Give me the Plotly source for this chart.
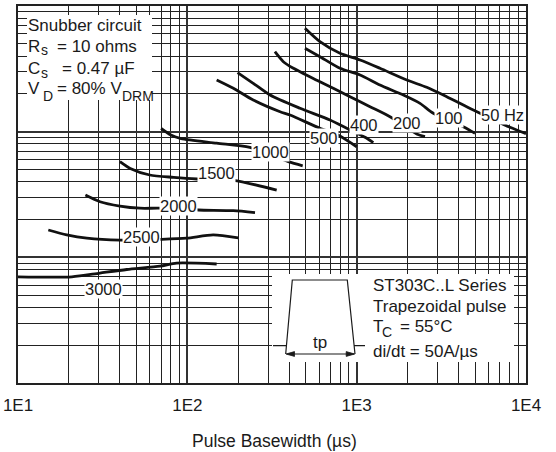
import plotly.graph_objects as go

# ---------------- data ----------------
series_names = ["50 Hz", "100", "200", "400", "500", "1000", "1500", "2000", "2500", "3000"]

pw_50 = [495, 607, 797, 1047, 1373, 1975, 2592, 3402, 4886, 8044, 10000]
ia_50 = [6645, 5200, 4203, 3718, 3194, 2577, 2254, 1898, 1487, 1083, 965]

pw_100 = [495, 607, 797, 1047, 1373, 1886, 2366, 2836, 4264, 5000]
ia_100 = [4607, 3950, 3194, 2825, 2351, 1958, 1681, 1400, 1095, 970]

pw_200 = [329, 369, 423, 607, 914, 1199, 1573, 2262, 2532]
ia_200 = [4328, 3605, 3194, 2498, 1898, 1580, 1315, 958, 912]

pw_400 = [198, 245, 308, 463, 696, 873, 1120, 1254]
ia_400 = [2946, 2426, 1958, 1535, 1239, 1064, 902, 817]

pw_500 = [149, 187, 245, 353, 404, 607, 776, 1000]
ia_500 = [2577, 2213, 1786, 1441, 1357, 1064, 941, 759]

pw_1000 = [70, 80, 92, 149, 234, 395, 480]
ia_1000 = [1064, 941, 880, 810, 750, 577, 535]

pw_1500 = [40, 46, 60, 83, 114, 187, 337]
ia_1500 = [577, 510, 452, 433, 420, 410, 343]

pw_2000 = [25, 30.5, 40, 52.5, 69, 116, 187, 251]
ia_2000 = [313, 277, 256, 246, 246, 238, 235, 227]

pw_2500 = [15.1, 19.4, 25.5, 40, 69, 99, 142, 200]
ia_2500 = [165, 151, 142, 137, 139, 142, 151, 143]

pw_3000 = [10, 20.8, 30.5, 43.9, 69, 86.5, 149]
ia_3000 = [70, 70, 75, 80, 85, 90, 88.5]

x_tick_vals = [10, 100, 1000, 10000]
x_tick_text = ["1E1", "1E2", "1E3", "1E4"]

curves = [(pw_50, ia_50), (pw_100, ia_100), (pw_200, ia_200), (pw_400, ia_400),
          (pw_500, ia_500), (pw_1000, ia_1000), (pw_1500, ia_1500),
          (pw_2000, ia_2000), (pw_2500, ia_2500), (pw_3000, ia_3000)]

# label positions (pixel centres in the 556x452 picture)
label_px = [(502.5, 115), (449, 118.3), (407, 122.7), (364, 125), (324, 138.3),
            (270.5, 151.7), (216, 173.3), (178.7, 206), (141, 236.7), (103, 289.3)]

# ---------------- geometry helpers ----------------
W, H = 556, 452
PL, PR, PT, PB = 18, 526, 6, 383


def px(x):
    return (x - PL) / (PR - PL)


def py(y):
    return (PB - y) / (PB - PT)


FONT = "Liberation Sans, Arial, Helvetica, sans-serif"
INK = "#1a1a1a"

fig = go.Figure()
for name, (xs, ys) in zip(series_names, curves):
    fig.add_trace(go.Scatter(x=xs, y=ys, mode="lines", name=name,
                             line=dict(color="#111", width=2.8, shape="spline", smoothing=0.7),
                             showlegend=False, hoverinfo="skip"))

shapes = []
annotations = []


def note(text, x, y, size=17, xanchor="center", bg=None):
    d = dict(xref="paper", yref="paper", x=px(x), y=py(y), text=text,
             xanchor=xanchor, yanchor="middle", showarrow=False,
             font=dict(family=FONT, size=size, color=INK))
    if bg:
        d.update(bgcolor=bg, borderpad=0)
    annotations.append(d)


# white panels hiding the grid
shapes.append(dict(type="rect", xref="paper", yref="paper",
                   x0=px(27), x1=px(152), y0=py(100), y1=py(15),
                   fillcolor="white", line=dict(width=0), layer="above"))
shapes.append(dict(type="rect", xref="paper", yref="paper",
                   x0=px(272), x1=px(514), y0=py(362), y1=py(274),
                   fillcolor="white", line=dict(width=0), layer="above"))

# trapezoid pulse sketch
path = (f"M {px(273)},{py(345.7)} L {px(286.4)},{py(345.7)} "
        f"M {px(285.7)},{py(354)} L {px(292.3)},{py(280)} L {px(347.3)},{py(280)} L {px(355)},{py(354)} "
        f"M {px(354.3)},{py(345.7)} L {px(365)},{py(345.7)} "
        f"M {px(287)},{py(354)} L {px(354)},{py(354)}")
shapes.append(dict(type="path", xref="paper", yref="paper", path=path,
                   line=dict(color=INK, width=1.2), layer="above"))
# arrow heads
for tip, back in [(286.0, 294.5), (354.7, 346.2)]:
    head = (f"M {px(tip)},{py(354)} L {px(back)},{py(351.6)} "
            f"L {px(back)},{py(356.4)} Z")
    shapes.append(dict(type="path", xref="paper", yref="paper", path=head,
                       fillcolor=INK, line=dict(color=INK, width=0.8), layer="above"))

note("tp", 320, 342.3)

# curve labels
for name, (lx, ly) in zip(series_names, label_px):
    note(name, lx, ly, size=16.5, bg="white")

# snubber text (pieces: text, left x, centre y, size)
snub_pieces = [
    ("Snubber circuit", 26, 25, 17),
    ("R", 26, 47, 17), ("s", 38.5, 50.5, 14), ("= 10 ohms", 55, 47, 17),
    ("C", 26, 68.5, 17), ("s", 38.5, 73.5, 14), ("= 0.47 µF", 60, 68.5, 17),
    ("V", 26, 88.5, 17), ("D", 41, 96, 14), ("= 80% V", 55, 88.5, 17),
    ("DRM", 120, 96, 14),
]
for t, x, y, s in snub_pieces:
    note(t, x, y, size=s, xanchor="left")

# series box text
info_pieces = [
    ("ST303C..L Series", 371, 285, 17),
    ("Trapezoidal pulse", 371, 306.7, 17),
    ("T", 371, 326.7, 17), ("C", 380, 331.5, 14), ("= 55°C", 398, 326.7, 17),
    ("di/dt = 50A/µs", 371, 351.7, 17),
]
for t, x, y, s in info_pieces:
    note(t, x, y, size=s, xanchor="left")

# axis title
note("Pulse Basewidth (µs)", 274, 441, size=17.5)

grid_major = dict(showgrid=True, gridcolor="#333", gridwidth=2)
minor = dict(dtick="D1", showgrid=True, gridcolor="#222", gridwidth=1, ticks="")

fig.update_layout(
    width=W, height=H,
    margin=dict(l=PL, r=W - PR, t=PT, b=H - PB, autoexpand=False),
    paper_bgcolor="white", plot_bgcolor="white",
    shapes=shapes, annotations=annotations,
    xaxis=dict(type="log", range=[1, 4], tickmode="array", tickvals=x_tick_vals,
               ticktext=x_tick_text, ticks="", ticklabelstandoff=6, automargin=False,
               tickfont=dict(family=FONT, size=17, color=INK),
               showline=True, mirror=True, linecolor="#222", linewidth=1.5,
               zeroline=False, minor=minor, **grid_major),
    yaxis=dict(type="log", range=[1, 4], dtick=1, showticklabels=False, ticks="",
               automargin=False,
               showline=True, mirror=True, linecolor="#222", linewidth=1.5,
               zeroline=False, minor=minor, **grid_major),
)

fig.write_html("out.html", config={"displayModeBar": False},
               post_script="document.body.style.margin='0';"
                           "document.documentElement.style.overflow='hidden';")
